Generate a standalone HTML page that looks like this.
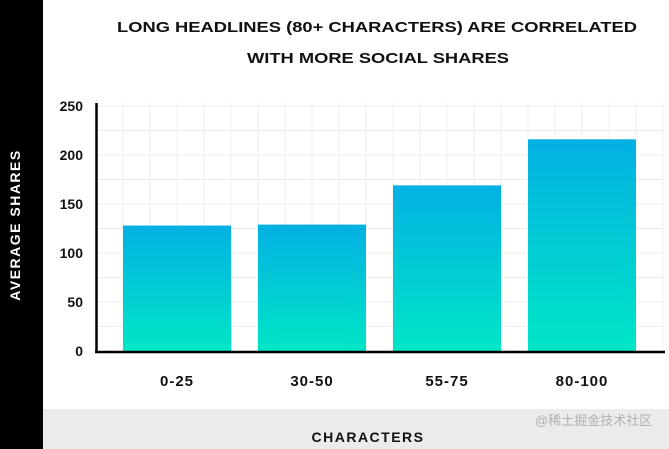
<!DOCTYPE html>
<html><head><meta charset="utf-8"><style>
html,body{margin:0;padding:0;background:#fff;}
svg{display:block;font-family:"Liberation Sans","Noto Sans CJK SC",sans-serif;font-weight:bold;}
</style></head><body>
<svg id="chart" width="669" height="449" viewBox="0 0 669 449">
<defs><linearGradient id="g" x1="0" y1="0" x2="0" y2="1"><stop offset="0" stop-color="#03b0e3"/><stop offset="1" stop-color="#00e6c6"/></linearGradient></defs>
<rect x="0" y="0" width="43" height="449" fill="#000"/>
<rect x="43" y="409" width="626" height="40" fill="#ebebeb"/>
<text x="20" y="225" fill="#fff" font-size="14" text-anchor="middle" letter-spacing="1.5" transform="rotate(-90 20 225)">AVERAGE SHARES</text>
<text x="368" y="442" fill="#111" font-size="14" text-anchor="middle" letter-spacing="1.5">CHARACTERS</text>
<text x="377" y="32" fill="#111" font-size="15" textLength="520" lengthAdjust="spacingAndGlyphs" text-anchor="middle">LONG HEADLINES (80+ CHARACTERS) ARE CORRELATED</text>
<text x="378" y="63" fill="#111" font-size="15" textLength="262" lengthAdjust="spacingAndGlyphs" text-anchor="middle">WITH MORE SOCIAL SHARES</text>
<g id="grid"></g><g id="bars"></g><g id="labels"></g>
<line x1="96.5" y1="103" x2="96.5" y2="353" stroke="#000" stroke-width="2.5"/>
<line x1="95" y1="352" x2="665" y2="352" stroke="#000" stroke-width="2.5"/>
<text x="535" y="425" fill="#999" font-size="13" font-weight="normal" opacity="0.7">@稀土掘金技术社区</text>
</svg>
<script>
const categories = ["0-25","30-50","55-75","80-100"];
const values = [128, 129, 169, 216];
const yTicks = [0,50,100,150,200,250];
const NS="http://www.w3.org/2000/svg";
const y0=351, pxPer=0.98;
function y(v){return y0-v*pxPer;}
function xBand(i){return 123+i*135;}
const bw=108;
function mk(t,a,p){const e=document.createElementNS(NS,t);for(const k in a)e.setAttribute(k,a[k]);p.appendChild(e);return e;}
const grid=document.getElementById('grid'),bars=document.getElementById('bars'),labels=document.getElementById('labels');
for(let v=25;v<=250;v+=25){const l=mk('line',{x1:97,x2:663,y1:y(v),y2:y(v),stroke:'#ececec','stroke-width':1},grid);

}
for(let x=123;x<664;x+=27){const l=mk('line',{x1:x,x2:x,y1:103,y2:351,stroke:'#ececec','stroke-width':1},grid);

}
yTicks.forEach(t=>{const e=mk('text',{x:83,y:y(t)+5,'text-anchor':'end','font-size':14,fill:'#111'},labels);e.textContent=t;

});
categories.forEach((c,i)=>{
const r=mk('rect',{x:xBand(i),y:y(values[i]),width:bw,height:y0-y(values[i]),fill:'url(#g)'},bars);


const t=mk('text',{x:xBand(i)+bw/2,y:386,'text-anchor':'middle','font-size':15,'letter-spacing':1,fill:'#111'},labels);t.textContent=c;


});
</script>
</body></html>
